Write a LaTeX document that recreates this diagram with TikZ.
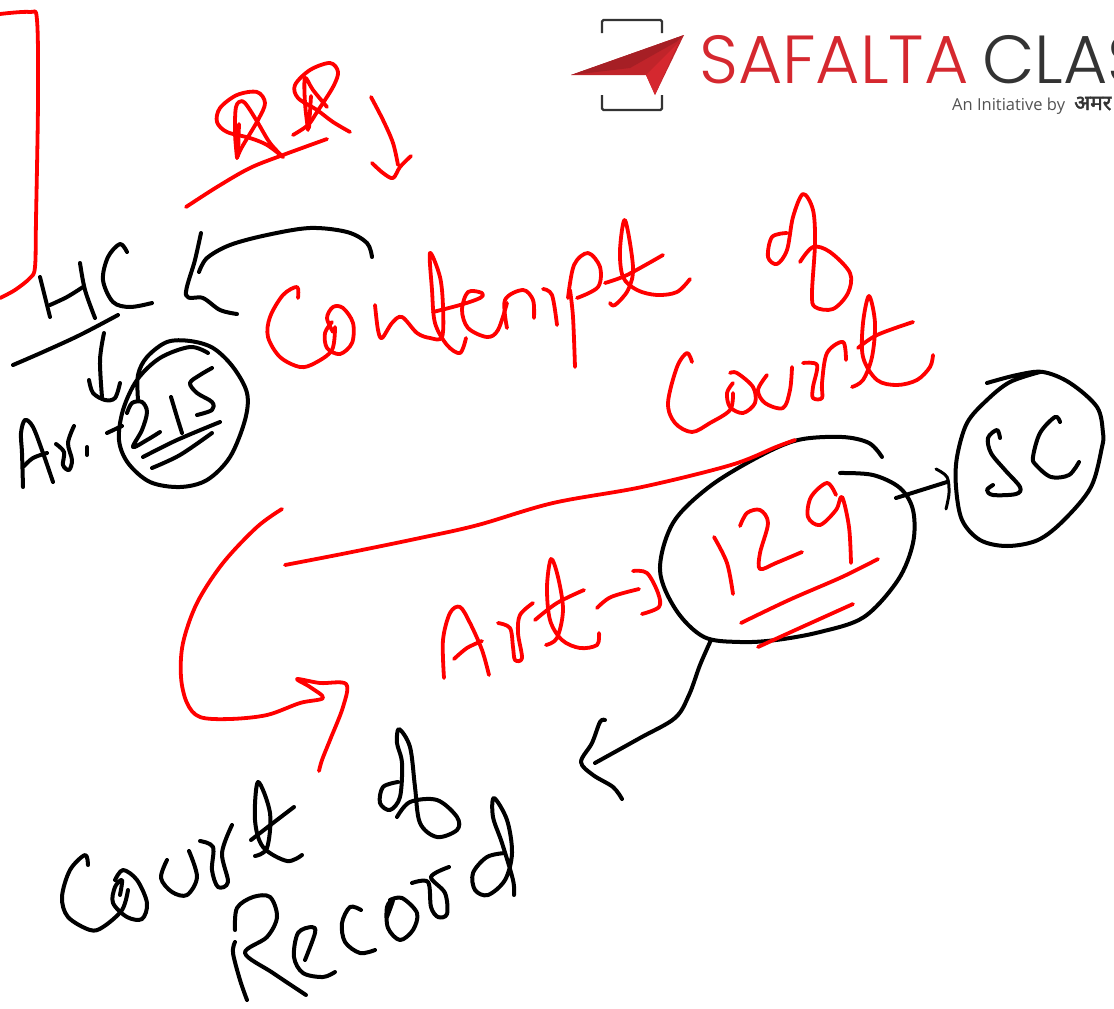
\documentclass[tikz,border=0pt]{standalone}
\usepackage{fontspec}
\usepackage{xstring}
\setmainfont{Open Sans}
\newfontfamily\logofont[UprightFont=* Light]{Poppins}
\newfontfamily\hindifont[Script=Devanagari,FakeBold=2]{Noto Sans}
\definecolor{pen}{HTML}{FF0000}
\definecolor{logored}{HTML}{D5282F}
\definecolor{logodark}{HTML}{333333}
\tikzset{
 redink/.style={draw=pen,line width=3.8pt,line cap=round,line join=round},
 blackink/.style={draw=black,line width=4pt,line cap=round,line join=round},
 blackthin/.style={draw=black,line width=3pt,line cap=round,line join=round},
 logoframe/.style={draw=logodark,line width=2.2pt,rounded corners=1.5pt},
}
\newcommand{\inkdo}[2]{\draw[#1] plot[smooth,tension=.55] coordinates {#2};}
\newcommand{\ink}[2]{\StrSubstitute{#2}{),(}{) (}[\inktmp]\def\inkhead{\inkdo{#1}}\expandafter\inkhead\expandafter{\inktmp}}
\begin{document}
\begin{tikzpicture}[x=1pt,y=-1pt]
\useasboundingbox (0,0) rectangle (1114,1009);
\begin{scope}
\clip (0,0) rectangle (1114,1009);
% logo
\draw[logoframe] (602,33) -- (602,20) -- (662,20) -- (662,33);
\draw[logoframe] (602,95) -- (602,110) -- (662,110) -- (662,95);
\fill[fill=logored!90!black] (684,35) -- (571,75) -- (646,75) -- (655,95) -- cycle;
\fill[fill=logored!78!black] (684,35) -- (571,75) -- (630,68) -- (676,42) -- cycle;
\fill[fill=logored] (678,43) -- (646,75) -- (655,95) -- cycle;
\node[anchor=base west,inner sep=0pt,text=logored,font=\logofont\fontsize{68}{68}\selectfont] (brand) at (699,83) {SAFALTA};
\node[anchor=base west,inner sep=0pt,text=logodark,font=\logofont\fontsize{68}{68}\selectfont] (brandb) at (982,83) {CLAS};
\node[anchor=base west,inner sep=0pt,text=logodark!85,font=\fontsize{16.5}{17}\selectfont] (init) at (952,110) {An Initiative by};
\node[anchor=base west,inner sep=0pt,text=logodark,font=\hindifont\fontsize{21}{21}\selectfont] (amar) at (1074,110) {अमर};
% red frame
\ink{redink}{(0,14),(30,12),(37,20),(38,100),(36,220),(35,267),(30,278),(15,290),(0,298)}
% RR
\ink{redink}{(237,158),(235,133),(236,107),(242,101),(248,107),(258,123),(270,143),(283,157)}
\ink{redink}{(283,157),(267,145),(250,138),(227,132),(217,122),(220,108),(237,95),(257,92),(265,103),(258,120),(242,147),(237,158)}
\ink{redink}{(239,124),(238,156)}
\ink{redink}{(293,135),(308,125),(317,112),(333,87),(338,72),(330,63),(310,70),(295,85),(298,98),(317,110),(333,122),(350,132)}
\ink{redink}{(308,130),(305,103),(305,78),(313,90),(327,107)}
\ink{redink}{(311,96),(309,128)}
\ink{redink}{(186,207),(217,187),(250,168),(283,155),(327,139)}
\ink{redink}{(371,97),(383,120),(393,143),(398,165)}
\ink{redink}{(372,163),(383,173),(393,178),(400,167),(411,156)}
% HC
\ink{blackink}{(40,277),(45,297),(50,317)}
\ink{blackink}{(50,305),(67,297),(83,287)}
\ink{blackink}{(80,263),(85,290),(95,318)}
\ink{blackink}{(127,252),(120,244),(108,257),(103,280),(113,302),(130,307),(152,303)}
\ink{blackink}{(13,365),(43,352),(80,335),(118,315)}
\ink{blackink}{(104,333),(100,360),(102,397)}
\ink{blackink}{(89,380),(93,393),(105,400),(115,398),(120,383)}
% Ar.
\ink{blackink}{(23,487),(22,453),(21,433),(25,420),(33,427),(43,453),(53,482)}
\ink{blackink}{(23,467),(33,458),(47,453)}
\ink{blackink}{(56,444),(64,452),(63,465),(69,470),(72,460),(68,443),(74,426)}
\ink{blackink}{(87,447),(87,455)}
\ink{blackink}{(107,433),(122,426)}
% 215 circle
\ink{blackink}{(208,353),(190,347),(160,358),(137,380),(123,410),(119,440),(128,463),(150,482),(180,487),(207,480),(230,457),(245,420),(247,393),(233,367),(213,348),(190,341),(167,342),(147,357),(138,375),(138,400)}
\ink{blackink}{(127,413),(132,403),(142,402),(147,412),(142,430),(133,447),(147,440),(160,432)}
\ink{blackink}{(171,397),(177,417),(182,433)}
\ink{blackink}{(212,368),(200,375),(190,383),(197,393),(212,402),(212,410),(197,415)}
\ink{blackink}{(143,457),(177,440),(220,422)}
\ink{blackink}{(152,468),(180,455),(212,433)}
% arrow to HC
\ink{blackink}{(201,233),(195,260),(186,295),(203,298),(220,310),(237,314)}
\ink{blackink}{(199,272),(207,258),(230,245),(267,235),(310,228),(347,232),(367,243),(372,257)}
% Contempt
\ink{redink}{(298,298),(297,287),(283,295),(270,317),(268,337),(280,357),(300,367),(315,363),(332,350),(335,327)}
\ink{redink}{(332,322),(325,333),(327,348),(340,354),(352,343),(353,323),(343,308),(333,307),(327,318),(333,332)}
\ink{redink}{(375,305),(378,330),(382,338),(392,323),(402,317),(417,333),(430,338),(442,337),(443,307),(440,277),(430,253),(432,290),(435,323),(447,345),(460,353),(466,338)}
\ink{redink}{(433,312),(460,305),(480,298),(482,293),(468,292),(462,310),(468,328),(487,337),(498,330),(507,303)}
\ink{redink}{(507,328),(505,300),(523,290),(533,300),(534,318)}
\ink{redink}{(543,289),(552,295),(557,325)}
\ink{redink}{(570,290),(573,317),(575,367)}
\ink{redink}{(568,298),(574,265),(588,253),(600,267),(598,287),(577,298)}
\ink{redink}{(610,303),(615,305),(628,290),(633,267),(625,220),(620,250),(623,277),(637,290),(657,295),(677,292),(690,279)}
\ink{redink}{(605,283),(627,275),(663,255)}
% of
\ink{redink}{(800,262),(813,247),(830,252),(850,273),(848,293),(833,309),(815,307),(812,293),(815,243),(813,210),(803,194),(793,217),(787,250),(777,264),(768,257),(772,237),(787,233)}
% Court (red)
\ink{redink}{(692,362),(687,353),(677,367),(668,403),(675,423),(692,432),(710,423),(730,410),(733,393)}
\ink{redink}{(733,383),(727,393),(730,407),(743,413),(755,403),(753,387),(737,373),(730,373)}
\ink{redink}{(767,375),(758,390),(765,403),(783,408),(790,390),(792,367)}
\ink{redink}{(803,363),(817,365),(813,387),(813,398),(822,398),(822,383),(827,353),(843,342),(846,360)}
\ink{redink}{(852,387),(863,380),(872,357),(875,323),(869,296),(863,323),(863,357),(877,380),(897,385),(917,380),(930,367),(933,355)}
\ink{redink}{(858,348),(877,335),(913,322)}
% SC
\ink{blackink}{(987,383),(1017,375),(1043,372),(1070,383),(1097,407),(1103,433),(1102,447),(1091,487),(1064,520),(1038,540),(1007,546),(980,540),(962,520),(956,487),(957,457),(967,423),(987,400),(1010,382),(1040,372)}
\ink{blackink}{(1000,438),(997,430),(988,438),(991,453),(1005,470),(1020,487),(1016,494),(993,495),(987,490),(993,485)}
\ink{blackink}{(1060,422),(1055,417),(1040,433),(1033,457),(1036,465),(1051,477),(1069,475),(1079,462)}
% 129 circle
\ink{blackink}{(882,457),(869,443),(842,437),(798,440),(758,457),(709,487),(673,523),(660,570),(676,610),(704,637),(740,642),(776,640),(820,632),(864,617),(898,580),(913,543),(913,510),(900,488),(873,475),(840,473)}
\ink{blackink}{(896,498),(947,482)}
\ink{blackthin}{(936,469),(947,477),(949,493),(946,509)}
% red long arrow
\ink{redink}{(285,565),(347,553),(420,538),(478,525),(553,503),(642,487),(731,465),(776,447),(795,440)}
\ink{redink}{(282,509),(257,527),(223,563),(197,603),(183,643),(181,677),(187,703),(200,717),(230,719),(267,715),(300,703),(323,698),(310,687),(297,679),(320,683),(346,684),(343,707),(330,740),(322,760),(319,771)}
% Art-)
\ink{redink}{(444,678),(443,640),(450,613),(460,607),(470,623),(482,650),(489,675)}
\ink{redink}{(454,659),(467,648),(482,641)}
\ink{redink}{(498,623),(510,628),(513,647),(515,660),(522,658),(518,633),(520,615),(533,603)}
\ink{redink}{(546,645),(557,638),(563,610),(558,577),(551,559),(547,587),(550,620),(562,640),(580,648),(597,645),(599,633)}
\ink{redink}{(535,620),(557,603),(584,590)}
\ink{redink}{(597,608),(611,597),(639,589)}
\ink{redink}{(633,571),(647,573),(658,593),(659,607),(642,614)}
% 129
\ink{redink}{(714,537),(727,563),(733,594)}
\ink{redink}{(740,526),(747,513),(760,510),(768,523),(760,553),(760,569),(776,563),(802,552)}
\ink{redink}{(836,495),(827,483),(811,497),(808,517),(820,525),(836,510),(842,497),(849,527),(851,563)}
\ink{redink}{(741,623),(789,600),(842,577),(878,559)}
\ink{redink}{(758,647),(802,627),(853,604)}
% arrow to record
\ink{blackink}{(711,640),(700,665),(689,695),(675,718),(640,738),(595,763)}
\ink{blackink}{(605,720),(600,722),(592,743),(581,762),(593,775),(613,787),(622,799)}
% Court
\ink{blackink}{(88,865),(85,855),(70,870),(62,897),(68,917),(90,930),(103,927),(122,910),(128,890)}
\ink{blackink}{(120,895),(122,880),(115,887),(113,903),(127,917),(142,919),(147,903),(137,880),(123,870),(115,880)}
\ink{blackink}{(167,860),(161,878),(172,892),(187,895),(197,877),(189,851)}
\ink{blackink}{(200,841),(213,847),(212,870),(218,887),(228,882),(222,853),(232,825)}
\ink{blackink}{(255,856),(267,848),(270,813),(258,782),(255,820),(263,847),(287,861),(302,855)}
\ink{blackink}{(251,840),(273,823),(294,807)}
% of
\ink{blackink}{(397,817),(410,802),(437,800),(457,817),(457,830),(437,837),(420,823),(415,787),(410,747),(399,729),(397,743),(402,763),(400,797),(390,810),(380,803),(383,787),(398,782)}
% Record
\ink{blackink}{(235,942),(233,953),(240,980),(247,1000)}
\ink{blackink}{(235,930),(237,908),(253,897),(270,897),(277,917),(267,937),(245,953),(273,973),(306,995)}
\ink{blackink}{(305,960),(315,933),(312,927),(298,933),(294,957),(303,973),(323,977),(335,972)}
\ink{blackink}{(361,910),(350,907),(342,923),(345,942),(360,953),(375,950)}
\ink{blackink}{(387,917),(393,900),(387,907),(388,928),(400,940),(413,930),(417,913),(402,898),(390,900)}
\ink{blackink}{(412,883),(428,882),(431,907),(438,917),(447,914),(445,893),(431,877),(449,867)}
\ink{blackink}{(505,853),(487,857),(473,873),(475,890),(488,895),(505,880),(512,853),(507,820),(494,798),(493,817),(502,843),(513,880),(514,895)}
\end{scope}
\end{tikzpicture}
\end{document}
